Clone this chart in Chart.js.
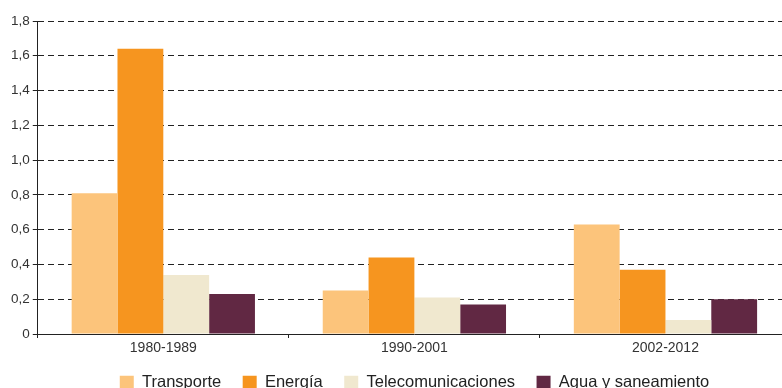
<!DOCTYPE html>
<html>
<head>
<meta charset="utf-8">
<script src="https://cdn.jsdelivr.net/npm/chart.js@4"></script>
<style>
  html, body { margin: 0; padding: 0; background: #fff; }
  #wrap { width: 782px; height: 388px; overflow: hidden; position: relative; }
  canvas { display: block; }
</style>
</head>
<body>
<div id="wrap"><canvas id="chart" width="791" height="406"></canvas></div>
<script>
// periodos y series
const periodos = ["1980-1989", "1990-2001", "2002-2012"];
const transporte = [0.81, 0.25, 0.63];
const energia = [1.64, 0.44, 0.37];
const telecom = [0.34, 0.21, 0.08];
const agua = [0.23, 0.17, 0.20];
const nombres = ["Transporte", "Energía", "Telecomunicaciones", "Agua y saneamiento"];
const colores = ["#FCC47B", "#F6951F", "#F0E8CF", "#612843"];

(function(){
  const FONT = "'Liberation Sans', Arial, sans-serif";

  // el gráfico original estaba recortado: la leyenda queda algo corrida
  const legendShift = {
    id: 'legendShift',
    afterLayout(chart) {
      const lg = chart.legend;
      if (!lg) return;
      lg.left += 15; lg.right += 15;
      lg.top -= 5; lg.bottom -= 5;
    }
  };

  const series = [transporte, energia, telecom, agua];
  const datasets = series.map((d, i) => ({
    label: nombres[i],
    data: d,
    backgroundColor: colores[i],
    borderWidth: 0,
    barPercentage: 1,
    categoryPercentage: 0.73
  }));

  new Chart(document.getElementById('chart').getContext('2d'), {
    type: 'bar',
    data: { labels: periodos, datasets },
    plugins: [legendShift],
    options: {
      responsive: false,
      animation: false,
      devicePixelRatio: 1,
      layout: { padding: { top: 21, left: 8, right: 0, bottom: 0 } },
      plugins: {
        tooltip: { enabled: false },
        legend: {
          position: 'bottom',
          labels: {
            boxWidth: 14,
            boxHeight: 14,
            padding: 21.5,
            color: '#222',
            font: { family: FONT, size: 16.5 }
          }
        }
      },
      scales: {
        x: {
          offset: true,
          grid: { display: true, drawOnChartArea: false, offset: true, tickLength: 4, color: '#222' },
          border: { display: true, color: '#222', width: 1 },
          ticks: { color: '#333', padding: 3, font: { family: FONT, size: 14, lineHeight: 1 } }
        },
        y: {
          min: 0,
          max: 1.8,
          grid: { color: '#222', tickLength: 5, tickColor: '#222', lineWidth: 1 },
          border: { display: true, color: '#222', width: 1, dash: [6, 4] },
          ticks: {
            stepSize: 0.2,
            color: '#333',
            padding: 3,
            font: { family: FONT, size: 13.5 },
            callback: v => v === 0 ? '0' : Number(v).toFixed(1).replace('.', ',')
          }
        }
      }
    }
  });
})();
</script>
</body>
</html>
